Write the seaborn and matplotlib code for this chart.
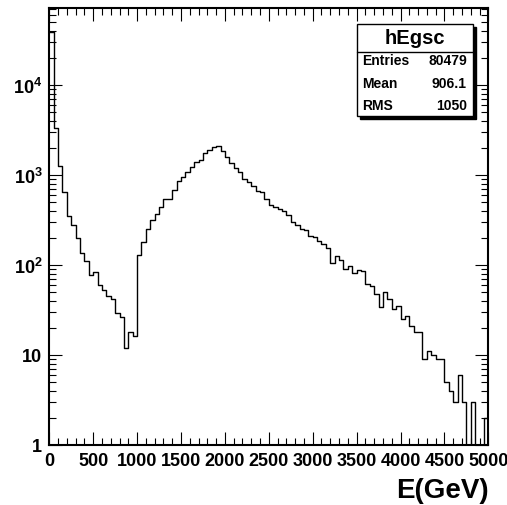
import numpy as np
import matplotlib
matplotlib.use("Agg")
import matplotlib.pyplot as plt
import seaborn as sns
from matplotlib.ticker import LogLocator, FuncFormatter, MultipleLocator, NullFormatter
from matplotlib.patches import Rectangle
from matplotlib.lines import Line2D

# hEgsc: 100 bins of 50 GeV between 0 and 5000
e_lo = 0
e_hi = 5000
n_bins = 100
counts = [39000, 3300, 1260, 640, 347, 275, 199, 135, 111, 77,
          83, 60, 53, 45, 42, 29, 26, 12, 18, 16,
          129, 180, 251, 318, 364, 437, 537, 545, 687, 858,
          943, 1071, 1237, 1406, 1469, 1742, 1910, 2064, 2080, 1850,
          1595, 1355, 1187, 1071, 902, 842, 760, 663, 652, 540,
          464, 437, 417, 394, 359, 298, 280, 251, 246, 211,
          203, 184, 171, 153, 105, 125, 113, 90, 98, 81,
          88, 86, 62, 58, 47, 34, 50, 42, 32, 35,
          25, 27, 21, 18, 18, 9, 11, 10, 9, 9,
          5, 4, 3, 6, 3, 0, 3, 0, 0, 2]
stat_names = ["Entries", "Mean", "RMS"]
stat_values = ["80479", "906.1", "1050"]
hist_name = "hEgsc"
x_title = "E(GeV)"

sns.set_theme(style="ticks")
plt.rcParams["font.family"] = ["Liberation Sans", "DejaVu Sans"]
plt.rcParams["font.weight"] = "bold"
plt.rcParams["text.color"] = "black"
plt.rcParams["axes.labelcolor"] = "black"
plt.rcParams["xtick.color"] = "black"
plt.rcParams["ytick.color"] = "black"
plt.rcParams["mathtext.fontset"] = "custom"
plt.rcParams["mathtext.rm"] = "Liberation Sans:bold"
plt.rcParams["mathtext.bf"] = "Liberation Sans:bold"
plt.rcParams["mathtext.it"] = "Liberation Sans:bold"

W, H = 507, 506
fig = plt.figure(figsize=(W / 100, H / 100), dpi=100)
fig.patch.set_facecolor("white")


def fx(x):
    return x / W


def fy(y):
    return 1 - y / H


left, right, top, bottom = 49.3, 488.3, 9, 445.7
ax = fig.add_axes([fx(left), fy(bottom), fx(right) - fx(left), fy(top) - fy(bottom)])
ax.set_facecolor("white")

width = (e_hi - e_lo) / n_bins
centers = e_lo + width * (np.arange(n_bins) + 0.5)
sns.histplot(x=centers, weights=counts, bins=n_bins, binrange=(e_lo, e_hi),
             element="step", fill=False, color="black", linewidth=1.0, ax=ax)

ax.set_yscale("log")
ax.set_xlim(e_lo, e_hi)
ax.set_ylim(1, 72000)

ax.xaxis.set_major_locator(MultipleLocator(500))
ax.xaxis.set_minor_locator(MultipleLocator(100))
ax.yaxis.set_major_locator(LogLocator(base=10))
ax.yaxis.set_minor_locator(LogLocator(base=10, subs=np.arange(2, 10)))
ax.yaxis.set_minor_formatter(NullFormatter())


def ylab(v, pos):
    p = int(round(np.log10(v)))
    if p == 0:
        return "1"
    if p == 1:
        return "10"
    return r"$10^{%d}$" % p


ax.yaxis.set_major_formatter(FuncFormatter(ylab))
ax.xaxis.set_major_formatter(FuncFormatter(lambda v, pos: "%d" % v))

ax.tick_params(which="both", direction="in", top=True, right=True,
               color="black", width=0.8, labelsize=13, labelcolor="black")
ax.tick_params(which="major", length=9.5, pad=5)
ax.tick_params(which="minor", length=5)
for lab in ax.get_xticklabels() + ax.get_yticklabels():
    lab.set_fontweight("bold")
for s in ax.spines.values():
    s.set_linewidth(1.5)
    s.set_color("black")

ax.set_ylabel("")
ax.set_xlabel(x_title, fontsize=20, fontweight="bold", loc="right", labelpad=6, color="black")

# stats box
bx0, bx1, by0, by1 = 357, 473, 25, 117
sh = 3
fig.add_artist(Rectangle((fx(bx0 + sh), fy(by1 + sh)), fx(bx1 - bx0), fy(by0) - fy(by1),
                         transform=fig.transFigure, facecolor="black", edgecolor="black", zorder=5))
fig.add_artist(Rectangle((fx(bx0), fy(by1)), fx(bx1 - bx0), fy(by0) - fy(by1),
                         transform=fig.transFigure, facecolor="white", edgecolor="black",
                         linewidth=1.0, zorder=6))
fig.add_artist(Line2D([fx(bx0), fx(bx1)], [fy(52.5), fy(52.5)], transform=fig.transFigure,
                      color="black", linewidth=1.0, zorder=7))
fig.text(fx((bx0 + bx1) / 2), fy(39), hist_name, fontsize=14.5, fontweight="bold",
         ha="center", va="center", color="black", zorder=8)
row_y = [61, 83.5, 106]
for name, val, yy in zip(stat_names, stat_values, row_y):
    fig.text(fx(362), fy(yy), name, fontsize=10, fontweight="bold", ha="left", va="center",
             color="black", zorder=8)
    fig.text(fx(467), fy(yy), val, fontsize=10, fontweight="bold", ha="right", va="center",
             color="black", zorder=8)

fig.savefig("out.png", dpi=100, facecolor="white")
